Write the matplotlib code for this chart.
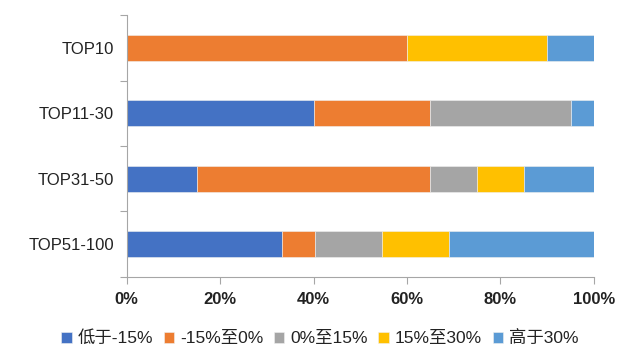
import matplotlib.pyplot as plt
import numpy as np

plt.rcParams['font.family'] = ['Liberation Sans', 'Noto Sans CJK SC', 'DejaVu Sans']

categories = ['TOP10', 'TOP11-30', 'TOP31-50', 'TOP51-100']
series_names = ['低于-15%', '-15%至0%', '0%至15%', '15%至30%', '高于30%']
colors = ['#4472C4', '#ED7D31', '#A5A5A5', '#FFC000', '#5B9BD5']

# shares per category, in order of series_names
below_m15 = [0.0, 40.0, 15.0, 33.3]
m15_to_0 = [60.0, 25.0, 50.0, 7.1]
p0_to_15 = [0.0, 30.0, 10.0, 14.3]
p15_to_30 = [30.0, 0.0, 10.0, 14.3]
above_30 = [10.0, 5.0, 15.0, 31.0]

data = [below_m15, m15_to_0, p0_to_15, p15_to_30, above_30]

fig = plt.figure(figsize=(6.4, 3.62), dpi=100)
ax = fig.add_axes([0.198, 0.235, 0.73, 0.723])

y = np.arange(len(categories))
left = np.zeros(len(categories))
for vals, name, c in zip(data, series_names, colors):
    vals = np.array(vals) / 100.0
    ax.barh(y, vals, left=left, height=0.4, color=c, label=name,
            edgecolor='#f0f0f0', linewidth=0.4)
    left += vals

ax.set_ylim(len(categories) - 0.5, -0.5)
ax.set_xlim(0, 1)
ax.set_yticks(y)
ax.set_yticklabels(categories)
ax.set_yticks(np.arange(-0.5, len(categories), 1.0), minor=True)
ax.tick_params(axis='y', which='major', length=0, pad=9, labelsize=12, labelcolor='#222222')
ax.tick_params(axis='y', which='minor', length=5, color='#a6a6a6', width=0.8)

ax.set_xticks(np.arange(0, 1.01, 0.2))
ax.set_xticklabels(['0%', '20%', '40%', '60%', '80%', '100%'], fontweight='bold')
ax.tick_params(axis='x', length=5, color='#a6a6a6', width=0.8, labelsize=12,
               labelcolor='#222222', pad=6)

for s in ['top', 'right']:
    ax.spines[s].set_visible(False)
for s in ['left', 'bottom']:
    ax.spines[s].set_color('#a6a6a6')
    ax.spines[s].set_linewidth(0.8)

fig.legend(loc='lower center', bbox_to_anchor=(0.5, 0.0), ncol=5, frameon=False,
           fontsize=12.5, handlelength=0.6, handleheight=0.6, handletextpad=0.35,
           columnspacing=0.6, labelcolor='#222222')

fig.savefig('out.png', dpi=100)
